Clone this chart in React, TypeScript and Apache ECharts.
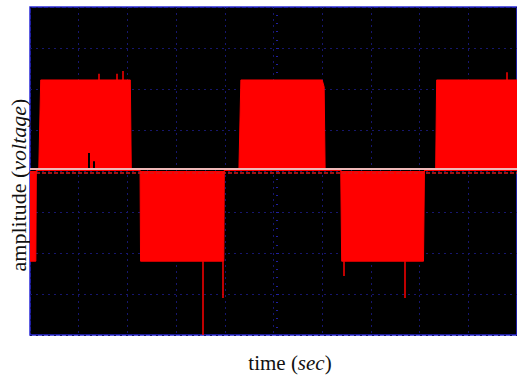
import React, { useEffect, useRef } from 'react';
import * as echarts from 'echarts';

// time in screen divisions (0..10), amplitude in divisions (-4..4)
const signalTime = [0, 0.12, 0.13, 0.18, 0.22, 2.06, 2.08, 2.26, 2.27, 3.98, 3.99, 4.29, 4.33, 6.0, 6.04, 6.06, 6.38, 6.4, 8.08, 8.1, 8.33, 8.35, 10];
const signalLevel = [-2.2, -2.2, 0.05, 0.05, 2.22, 2.22, 0.05, 0.05, -2.2, -2.2, 0.05, 0.05, 2.22, 2.22, 2.05, 0.05, 0.05, -2.2, -2.2, 0.05, 0.05, 2.22, 2.22];

const spikeTime = [3.54, 3.96, 6.44, 7.7, 1.42, 1.79, 1.91, 9.78];
const spikeFrom = [-2.2, -2.2, -2.2, -2.2, 2.22, 2.22, 2.22, 2.22];
const spikeTo = [-4.0, -3.1, -2.56, -3.1, 2.37, 2.37, 2.44, 2.41];

const dipTime = [1.2, 1.3];
const dipFrom = [0.05, 0.05];
const dipTo = [0.44, 0.24];

const baseline = 0.05;
const timeRange = [0, 10];
const ampRange = [-4, 4];

export default function App() {
  const ref = useRef<HTMLDivElement>(null);
  useEffect(() => {
    if (!ref.current) return;
    const chart = echarts.init(ref.current, undefined, { renderer: 'svg' });
    const gridBlue = '#16166e';
    const serif = "'Liberation Serif', serif";
    chart.setOption({
      animation: false,
      backgroundColor: '#fff',
      grid: {
        left: 30,
        top: 7,
        right: -5,
        bottom: 44,
        show: true,
        backgroundColor: '#000',
        borderColor: '#2a2ad8',
        borderWidth: 1.5,
      },
      xAxis: {
        type: 'value',
        min: timeRange[0],
        max: timeRange[1],
        interval: 1,
        axisLabel: { show: false },
        axisLine: { show: false, onZero: true },
        axisTick: { show: true, inside: true, length: 3, lineStyle: { color: gridBlue } },
        minorTick: { show: true, splitNumber: 5, length: 2, lineStyle: { color: gridBlue } },
        splitLine: { show: true, lineStyle: { color: gridBlue, type: [2, 4], width: 1 } },
      },
      yAxis: [
        {
          type: 'value',
          min: ampRange[0],
          max: ampRange[1],
          interval: 1,
          axisLabel: { show: false },
          axisLine: { show: false },
          axisTick: { show: false },
          splitLine: { show: true, lineStyle: { color: gridBlue, type: [2, 4], width: 1 } },
        },
        {
          type: 'value',
          min: ampRange[0],
          max: ampRange[1],
          interval: 1,
          position: 'left',
          offset: -246,
          axisLabel: { show: false },
          axisLine: { show: false },
          axisTick: { show: true, inside: true, length: 3, lineStyle: { color: '#2020a0' } },
          minorTick: { show: true, splitNumber: 5, length: 2, lineStyle: { color: '#2020a0' } },
          splitLine: { show: false },
        },
      ],
      series: [
        {
          type: 'line',
          data: signalTime.map((t, i) => [t, signalLevel[i]]),
          symbol: 'none',
          lineStyle: { color: '#ff0000', width: 1 },
          areaStyle: { color: '#ff0000', opacity: 1 },
          z: 2,
        },
        {
          type: 'lines',
          coordinateSystem: 'cartesian2d',
          data: spikeTime.map((t, i) => ({ coords: [[t, spikeFrom[i]], [t, spikeTo[i]]] })),
          lineStyle: { color: '#ff0000', width: 1.5, opacity: 1 },
          z: 3,
        },
        {
          type: 'lines',
          coordinateSystem: 'cartesian2d',
          data: dipTime.map((t, i) => ({ coords: [[t, dipFrom[i]], [t, dipTo[i]]] })),
          lineStyle: { color: '#000000', width: 2, opacity: 1 },
          z: 3,
        },
        {
          type: 'line',
          data: [[timeRange[0], baseline - 0.1], [timeRange[1], baseline - 0.1]],
          symbol: 'none',
          lineStyle: { color: '#d81818', width: 1.5, type: [4, 2] },
          z: 4,
        },
        {
          type: 'line',
          data: [[timeRange[0], baseline], [timeRange[1], baseline]],
          symbol: 'none',
          lineStyle: { color: '#efb8b8', width: 2 },
          z: 5,
        },
      ],
      graphic: [
        {
          type: 'text',
          x: 18,
          y: 185,
          rotation: Math.PI / 2,
          style: {
            text: '{n|amplitude (}{i|voltage}{n|)}',
            align: 'center',
            verticalAlign: 'middle',
            rich: {
              n: { fontFamily: serif, fontSize: 22, fill: '#111' },
              i: { fontFamily: serif, fontSize: 22, fontStyle: 'italic', fill: '#111' },
            },
          },
        },
        {
          type: 'text',
          x: 290,
          y: 363,
          style: {
            text: '{n|time (}{i|sec}{n|)}',
            align: 'center',
            verticalAlign: 'middle',
            rich: {
              n: { fontFamily: serif, fontSize: 21, fill: '#111' },
              i: { fontFamily: serif, fontSize: 21, fontStyle: 'italic', fill: '#111' },
            },
          },
        },
      ],
    });
    return () => chart.dispose();
  }, []);
  return <div ref={ref} style={{ position: 'fixed', left: 0, top: 0, width: 517, height: 379 }} />;
}
